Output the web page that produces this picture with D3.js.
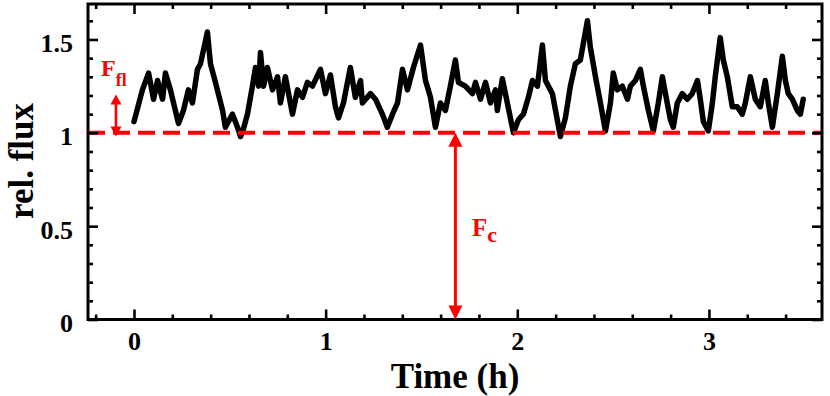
<!DOCTYPE html>
<html><head><meta charset="utf-8">
<script src="https://cdn.jsdelivr.net/npm/d3@7/dist/d3.min.js"></script>
<style>
html,body{margin:0;padding:0;background:#fff;}
svg{display:block;font-family:"Liberation Serif","Times New Roman",serif;font-weight:bold;}
</style></head>
<body><svg id="chart" width="830" height="396"></svg>
<script>
// ---- data ----
const timeH = [0.000,0.044,0.076,0.102,0.123,0.149,0.164,0.190,0.232,0.258,0.284,0.305,0.331,0.347,0.383,0.399,0.425,0.462,0.477,0.514,0.540,0.556,0.571,0.592,0.618,0.634,0.650,0.660,0.676,0.696,0.723,0.749,0.764,0.790,0.827,0.853,0.879,0.905,0.931,0.973,0.999,1.025,1.051,1.067,1.093,1.129,1.155,1.182,1.192,1.234,1.260,1.296,1.322,1.349,1.375,1.401,1.427,1.458,1.495,1.521,1.547,1.573,1.599,1.625,1.651,1.677,1.693,1.729,1.766,1.782,1.808,1.834,1.860,1.886,1.896,1.922,1.948,1.980,2.006,2.032,2.058,2.079,2.105,2.131,2.147,2.183,2.225,2.251,2.277,2.303,2.329,2.366,2.381,2.408,2.434,2.460,2.486,2.501,2.522,2.548,2.575,2.590,2.616,2.642,2.658,2.684,2.710,2.736,2.757,2.773,2.799,2.814,2.835,2.861,2.887,2.913,2.940,2.955,2.971,2.997,3.018,3.033,3.049,3.059,3.075,3.096,3.122,3.148,3.174,3.190,3.216,3.242,3.268,3.294,3.310,3.331,3.357,3.383,3.399,3.414,3.435,3.461,3.477,3.492];
const relFlux = [1.06,1.23,1.32,1.18,1.28,1.18,1.32,1.23,1.05,1.12,1.23,1.16,1.34,1.37,1.54,1.37,1.27,1.12,1.03,1.10,1.03,0.98,1.02,1.10,1.25,1.35,1.25,1.43,1.25,1.35,1.23,1.30,1.16,1.30,1.10,1.23,1.19,1.27,1.25,1.34,1.21,1.31,1.14,1.08,1.16,1.35,1.19,1.28,1.16,1.21,1.18,1.10,1.03,1.10,1.16,1.34,1.23,1.35,1.47,1.28,1.19,1.03,1.16,1.12,1.25,1.39,1.27,1.25,1.21,1.27,1.18,1.27,1.16,1.23,1.12,1.29,1.16,1.00,1.07,1.10,1.19,1.28,1.25,1.47,1.28,1.21,0.98,1.08,1.25,1.37,1.39,1.60,1.46,1.30,1.16,1.01,1.16,1.32,1.23,1.25,1.18,1.25,1.28,1.34,1.25,1.12,1.01,1.16,1.30,1.21,1.07,1.03,1.16,1.21,1.18,1.21,1.28,1.18,1.06,1.01,1.16,1.30,1.43,1.51,1.39,1.30,1.14,1.14,1.10,1.16,1.30,1.18,1.14,1.28,1.16,1.03,1.21,1.41,1.28,1.21,1.18,1.12,1.10,1.18];

const xMajorTicks = [0, 1, 2, 3];
const xTickLabels = ["0", "1", "2", "3"];
const xMinorTicks = [-0.2,0.2,0.4,0.6,0.8,1.2,1.4,1.6,1.8,2.2,2.4,2.6,2.8,3.2,3.4];
const yMajorTicks = [0, 0.5, 1, 1.5];
const yTickLabels = ["0", "0.5", "1", "1.5"];
const yMinorTicks = [0.1,0.2,0.3,0.4,0.6,0.7,0.8,0.9,1.1,1.2,1.3,1.4,1.6];
const xDomain = [-0.24, 3.59];
const yDomain = [0, 1.69];
const continuumLevel = 1.0;
const flArrowTime = -0.094;
const flArrowRange = [0.98, 1.205];
const cArrowTime = 1.677;
const cArrowRange = [0.0, 1.0];
const xTitle = "Time (h)";
const yTitle = "rel. flux";

// ---- layout ----
const svg = d3.select("#chart");
const L = 88, R = 822, T = 4, B = 319.5;
const x = d3.scaleLinear().domain(xDomain).range([L, R]);
const y = d3.scaleLinear().domain(yDomain).range([B, T]);

// light curve
const pts = timeH.map((t, i) => [t, relFlux[i]]);
svg.append("path")
  .datum(pts)
  .attr("fill", "none")
  .attr("stroke", "#000")
  .attr("stroke-width", 5.5)
  .attr("stroke-linejoin", "round")
  .attr("stroke-linecap", "round")
  .attr("d", d3.line().x(d => x(d[0])).y(d => y(d[1])));

// dashed continuum line
svg.append("line")
  .attr("x1", L).attr("x2", R)
  .attr("y1", y(continuumLevel)).attr("y2", y(continuumLevel))
  .attr("stroke", "#ff0000").attr("stroke-width", 4)
  .attr("stroke-dasharray", "17,8");

// axes
function styleAxis(g) {
  g.select(".domain").remove();
  g.selectAll(".tick line").attr("stroke", "#000").attr("stroke-width", 2.6);
}
function addAxis(axisFn, scale, vals, size, transform, labels) {
  const ax = axisFn(scale).tickValues(vals).tickSizeInner(size).tickSizeOuter(0);
  if (!labels) ax.tickFormat(() => "");
  const g = svg.append("g").attr("transform", transform).call(ax);
  styleAxis(g);
  return g;
}
// bottom
const gB = addAxis(d3.axisBottom, x, xMajorTicks, -10, `translate(0,${B})`, true);
gB.selectAll(".tick text")
  .text((d, i) => xTickLabels[i])
  .attr("y", 30).attr("dy", 0)
  .attr("font-size", 26).attr("font-family", "Liberation Serif").attr("font-weight", "bold")
  .attr("fill", "#000");
addAxis(d3.axisBottom, x, xMinorTicks, -5, `translate(0,${B})`, false);
// top
addAxis(d3.axisTop, x, xMajorTicks, -10, `translate(0,${T})`, false);
addAxis(d3.axisTop, x, xMinorTicks, -5, `translate(0,${T})`, false);
// left
const gL = addAxis(d3.axisLeft, y, yMajorTicks, -10, `translate(${L},0)`, true);
gL.selectAll(".tick text")
  .text((d, i) => yTickLabels[i])
  .attr("x", -15).attr("dy", 0).attr("y", 12)
  .attr("font-size", 26).attr("font-family", "Liberation Serif").attr("font-weight", "bold")
  .attr("fill", "#000");
addAxis(d3.axisLeft, y, yMinorTicks, -5, `translate(${L},0)`, false);
// right
addAxis(d3.axisRight, y, yMajorTicks, -10, `translate(${R},0)`, false);
addAxis(d3.axisRight, y, yMinorTicks, -5, `translate(${R},0)`, false);

// frame
svg.append("rect")
  .attr("x", L).attr("y", T).attr("width", R - L).attr("height", B - T)
  .attr("fill", "none").attr("stroke", "#000").attr("stroke-width", 3);

// arrows
function doubleArrow(t, range, head, hw, sw) {
  const xp = x(t), y0 = y(range[0]), y1 = y(range[1]);
  const lo = Math.max(y0, y1), hi = Math.min(y0, y1);
  svg.append("line").attr("x1", xp).attr("x2", xp)
    .attr("y1", hi + head - 1).attr("y2", lo - head + 1)
    .attr("stroke", "#ff0000").attr("stroke-width", sw);
  svg.append("path").attr("fill", "#ff0000")
    .attr("d", `M${xp},${hi} L${xp - hw},${hi + head} L${xp + hw},${hi + head} Z`);
  svg.append("path").attr("fill", "#ff0000")
    .attr("d", `M${xp},${lo} L${xp - hw},${lo - head} L${xp + hw},${lo - head} Z`);
}
doubleArrow(flArrowTime, flArrowRange, 10, 5.5, 2.6);
doubleArrow(cArrowTime, cArrowRange, 14, 7, 3);

// annotations
const tFl = svg.append("text").attr("x", 101).attr("y", 76)
  .attr("fill", "#ff0000").attr("font-size", 24);
tFl.append("tspan").text("F");
tFl.append("tspan").attr("font-size", 18).attr("dy", 10).text("fl");

const tC = svg.append("text").attr("x", 472).attr("y", 236)
  .attr("fill", "#ff0000").attr("font-size", 25);
tC.append("tspan").text("F");
tC.append("tspan").attr("font-size", 22).attr("dy", 6).text("c");

// axis titles
svg.append("text").attr("x", 455).attr("y", 388)
  .attr("text-anchor", "middle").attr("font-size", 35).attr("fill", "#000")
  .text(xTitle);
svg.append("text")
  .attr("transform", "translate(33,161) rotate(-90)")
  .attr("text-anchor", "middle").attr("font-size", 35).attr("fill", "#000")
  .text(yTitle);
</script></body></html>
